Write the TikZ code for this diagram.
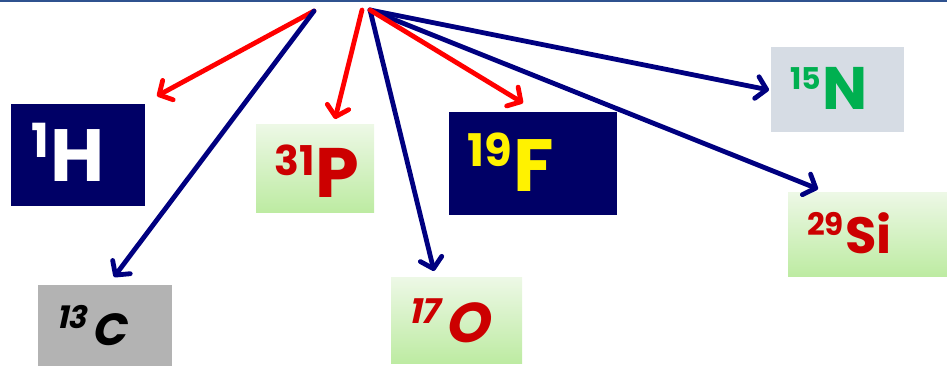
\documentclass[tikz,border=0pt]{standalone}
\usepackage{fontspec}
\setmainfont{Poppins}
\newfontfamily\slfont{Poppins}[FakeSlant=0.22]
\usetikzlibrary{arrows.meta}
\definecolor{navybox}{HTML}{000066}
\definecolor{arrblue}{HTML}{000080}
\definecolor{arrred}{HTML}{FF0000}
\definecolor{txtred}{HTML}{CC0000}
\definecolor{txtgreen}{HTML}{00B050}
\definecolor{greytop}{HTML}{B3B3B3}
\definecolor{bluegrey}{HTML}{D6DCE4}
\definecolor{greenlight}{HTML}{EDF8E6}
\definecolor{greendark}{HTML}{BDEBA2}
\definecolor{topline}{HTML}{2F528F}
\newcommand\isotope[6]{\raisebox{#2pt}{\fontsize{#1pt}{#1pt}\selectfont #3}\hspace{#6pt}\fontsize{#4pt}{#4pt}\selectfont #5}
\begin{document}
\begin{tikzpicture}[x=1pt,y=-1pt,
  boxbase/.style={rectangle, inner sep=0pt, anchor=north west, draw=none},
  navyb/.style={boxbase, fill=navybox},
  greyb/.style={boxbase, fill=greytop},
  bgreyb/.style={boxbase, fill=bluegrey},
  greenb/.style={boxbase, top color=greenlight, bottom color=greendark},
  lab/.style={anchor=base west, inner sep=0pt, font=\bfseries},
  arr/.style={line width=4.8pt, line cap=round, line join=round,
    -{Straight Barb[length=10pt, width=22pt, line cap=round, line join=round]}},
  redarr/.style={arr, draw=arrred},
  bluearr/.style={arr, draw=arrblue}]
\useasboundingbox (0,0) rectangle (947,366);
\fill[topline] (0,0) rectangle (947,1.6);

% boxes
\node[navyb, minimum width=134pt, minimum height=102pt] (bH) at (11,104) {};
\node[greyb, minimum width=134pt, minimum height=81pt] (bC) at (38,285) {};
\node[greenb, minimum width=118pt, minimum height=88pt] (bP) at (256,124) {};
\node[navyb, minimum width=168pt, minimum height=103pt] (bF) at (449,112) {};
\node[greenb, minimum width=131pt, minimum height=86pt] (bO) at (391,277) {};
\node[bgreyb, minimum width=133pt, minimum height=85pt] (bN) at (771,47) {};
\node[greenb, minimum width=159pt, minimum height=84pt] (bSi) at (788,192) {};

% labels
\node[lab, text=white] (lH) at (31,182) {\isotope{47}{24}{1}{74}{H}{1.5}};
\node[lab, text=black] (lC) at (56,345) {\slfont\bfseries\isotope{31}{17}{13}{45}{C}{5}};
\node[lab, text=txtred] (lP) at (274,197) {\isotope{41}{22}{31}{70}{P}{1.5}};
\node[lab, text=yellow] (lF) at (467,192) {\isotope{45}{25}{19}{74}{F}{1.5}};
\node[lab, text=txtred] (lO) at (408,342) {\slfont\bfseries\isotope{34}{19}{17}{56}{O}{5}};
\node[lab, text=txtgreen] (lN) at (790,110) {\isotope{30}{20}{15}{60}{N}{1.5}};
\node[lab, text=txtred] (lSi) at (807,253) {\isotope{31}{18}{29}{51}{Si}{1.5}};

% arrow sources and tips
\coordinate (sA) at (314,11);
\coordinate (sB) at (362,10);
\coordinate (sC) at (370,10);
\coordinate (tH) at (157,96);
\coordinate (tC) at (114,277);
\coordinate (tP) at (335,119);
\coordinate (tO) at (434,271);
\coordinate (tF) at (523,103);
\coordinate (tN) at (769,90);
\coordinate (tSi) at (818,189);

\draw[redarr] (sA) -- (tH);
\draw[bluearr] (sA) -- (tC);
\draw[redarr] (sB) -- (tP);
\draw[bluearr] (sC) -- (tO);
\draw[bluearr] (sC) -- (tN);
\draw[bluearr] (sC) -- (tSi);
\draw[redarr] (sC) -- (tF);
\end{tikzpicture}
\end{document}
